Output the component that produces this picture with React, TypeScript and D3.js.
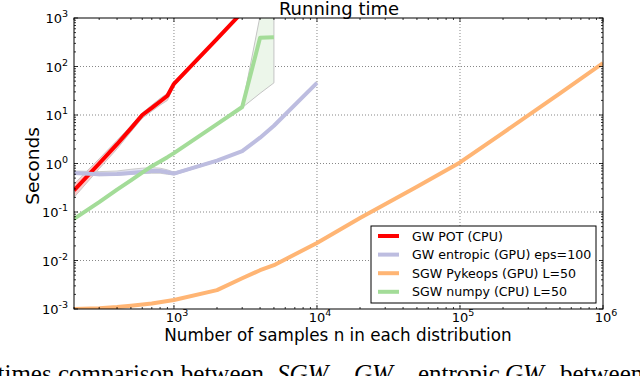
import React from "react";
import * as d3 from "d3";

// ---- data ----
const redN = [200, 300, 400, 500, 600, 700, 800, 900, 1000, 2000, 3000];
const redV = [0.28, 1.0, 2.5, 5.3, 10, 14, 19, 25, 44, 370, 1320];
const redLo = [0.2, 0.78, 2.0, 4.5, 8.6, 12, 16, 20, 40, 350, 1250];
const redHi = [0.38, 1.25, 3.0, 6.0, 11, 16, 22, 28, 48, 390, 1400];

const blueN = [200, 300, 400, 500, 600, 700, 800, 900, 1000, 2000, 3000, 4000, 5000, 10000];
const blueV = [0.64, 0.6, 0.61, 0.64, 0.67, 0.7, 0.7, 0.66, 0.62, 1.15, 1.8, 3.4, 6, 46];
const blueLo = [0.6, 0.56, 0.57, 0.6, 0.62, 0.63, 0.63, 0.6, 0.58, 1.1, 1.75, 3.3, 5.8, 45];
const blueHi = [0.7, 0.68, 0.7, 0.76, 0.8, 0.82, 0.8, 0.74, 0.66, 1.2, 1.85, 3.5, 6.2, 47];

const orangeN = [200, 300, 400, 500, 700, 1000, 2000, 3000, 4000, 5000, 10000, 20000, 50000, 100000, 200000, 500000, 1000000];
const orangeV = [0.001, 0.00104, 0.0011, 0.00117, 0.0013, 0.00153, 0.00245, 0.0043, 0.0063, 0.008, 0.023, 0.075, 0.33, 1.05, 4.3, 28, 118];

const greenN = [200, 300, 400, 500, 600, 700, 800, 900, 1000, 2000, 3000, 4000, 5000];
const greenV = [0.072, 0.16, 0.29, 0.45, 0.65, 0.88, 1.1, 1.35, 1.64, 6.5, 14.6, 390, 400];
const greenLo = [0.07, 0.155, 0.28, 0.44, 0.63, 0.86, 1.08, 1.32, 1.6, 6.3, 14.2, 28, 46];
const greenHi = [0.074, 0.165, 0.3, 0.46, 0.67, 0.9, 1.12, 1.38, 1.68, 6.7, 15, 1100, 1600];

const xTickExps = [3, 4, 5, 6];
const yTickExps = [-3, -2, -1, 0, 1, 2, 3];

const legendLabels = [
  "GW POT (CPU)",
  "GW entropic (GPU) eps=100",
  "SGW Pykeops (GPU) L=50",
  "SGW numpy (CPU) L=50",
];
const colors = ["#ff0000", "#bdbde0", "#ffb574", "#a3dc98"];

const W = 640, H = 376;
const L = 74, R = 603, T = 18, B = 309;

export default function App() {
  const x = d3.scaleLog().domain([200, 1e6]).range([L, R]);
  const y = d3.scaleLog().domain([1e-3, 1e3]).range([B, T]);

  const line = (ns: number[], vs: number[]) =>
    d3.line<number>().x((_, i) => x(ns[i])).y((v) => y(v))(vs) || "";
  const band = (ns: number[], lo: number[], hi: number[]) =>
    d3
      .area<number>()
      .x((_, i) => x(ns[i]))
      .y0((_, i) => y(lo[i]))
      .y1((v) => y(v))(hi) || "";

  const xMinor: number[] = [];
  for (let e = 2; e <= 5; e++) for (let m = 2; m <= 9; m++) {
    const v = m * Math.pow(10, e);
    if (v >= 200 && v <= 1e6) xMinor.push(v);
  }
  const yMinor: number[] = [];
  for (let e = -3; e <= 2; e++) for (let m = 2; m <= 9; m++) yMinor.push(m * Math.pow(10, e));

  const font = "DejaVu Sans, sans-serif";

  return (
    <svg width={W} height={H} style={{ position: "absolute", left: 0, top: 0, background: "#fff" }}>
      <defs>
        <clipPath id="plot">
          <rect x={L} y={T} width={R - L} height={B - T} />
        </clipPath>
      </defs>
      <rect x={0} y={0} width={W} height={H} fill="#fff" />
      {/* grid */}
      <g stroke="#555" strokeWidth={0.7} strokeDasharray="1,2">
        {xTickExps.slice(0, 3).map((e) => (
          <line key={"gx" + e} x1={x(Math.pow(10, e))} x2={x(Math.pow(10, e))} y1={T} y2={B} />
        ))}
        {yTickExps.slice(1, 6).map((e) => (
          <line key={"gy" + e} x1={L} x2={R} y1={y(Math.pow(10, e))} y2={y(Math.pow(10, e))} />
        ))}
      </g>
      <g clipPath="url(#plot)">
        <path d={band(redN, redLo, redHi)} fill="#ffc8c8" stroke="#c8c8c8" strokeWidth={1} />
        <path d={band(blueN, blueLo, blueHi)} fill="#e4e4f2" stroke="#cccccc" strokeWidth={1} />
        <path d={band(greenN, greenLo, greenHi)} fill="#ecf6ea" stroke="#c4c4c4" strokeWidth={1} />
        <path d={line(redN, redV)} fill="none" stroke={colors[0]} strokeWidth={4} strokeLinejoin="round" />
        <path d={line(blueN, blueV)} fill="none" stroke={colors[1]} strokeWidth={4} strokeLinejoin="round" />
        <path d={line(orangeN, orangeV)} fill="none" stroke={colors[2]} strokeWidth={4} strokeLinejoin="round" />
        <path d={line(greenN, greenV)} fill="none" stroke={colors[3]} strokeWidth={4} strokeLinejoin="round" />
      </g>
      {/* ticks */}
      <g stroke="#000" strokeWidth={0.8}>
        {xTickExps.map((e) => {
          const px = x(Math.pow(10, e));
          return (
            <g key={"tx" + e}>
              <line x1={px} x2={px} y1={B} y2={B - 4} />
              <line x1={px} x2={px} y1={T} y2={T + 4} />
            </g>
          );
        })}
        {xMinor.map((v) => {
          const px = x(v);
          return (
            <g key={"mx" + v}>
              <line x1={px} x2={px} y1={B} y2={B - 2} />
              <line x1={px} x2={px} y1={T} y2={T + 2} />
            </g>
          );
        })}
        {yTickExps.map((e) => {
          const py = y(Math.pow(10, e));
          return (
            <g key={"ty" + e}>
              <line x1={L} x2={L + 4} y1={py} y2={py} />
              <line x1={R} x2={R - 4} y1={py} y2={py} />
            </g>
          );
        })}
        {yMinor.map((v) => {
          const py = y(v);
          return (
            <g key={"my" + v}>
              <line x1={L} x2={L + 2} y1={py} y2={py} />
              <line x1={R} x2={R - 2} y1={py} y2={py} />
            </g>
          );
        })}
      </g>
      <rect x={L} y={T} width={R - L} height={B - T} fill="none" stroke="#000" strokeWidth={1} />
      {/* tick labels */}
      <g fontFamily={font} fontSize={13} fill="#000">
        {yTickExps.map((e) => (
          <text key={"ly" + e} x={68} y={y(Math.pow(10, e)) + 5} textAnchor="end">
            <tspan>10</tspan>
            <tspan dy={-6} fontSize={9.5}>{String(e)}</tspan>
          </text>
        ))}
        {xTickExps.map((e) => (
          <text key={"lx" + e} x={x(Math.pow(10, e)) + 3} y={322} textAnchor="middle">
            <tspan>10</tspan>
            <tspan dy={-6} fontSize={9.5}>{String(e)}</tspan>
          </text>
        ))}
      </g>
      {/* titles */}
      <text x={339} y={15} textAnchor="middle" fontFamily={font} fontSize={18}>Running time</text>
      <text x={338} y={341} textAnchor="middle" fontFamily={font} fontSize={16.8}>
        Number of samples n in each distribution
      </text>
      <text transform="translate(39,166) rotate(-90)" textAnchor="middle" fontFamily={font} fontSize={18.5}>
        Seconds
      </text>
      {/* legend */}
      <g>
        <rect x={371} y={226} width={225} height={77} fill="#fff" stroke="#000" strokeWidth={1} />
        {legendLabels.map((lab, i) => (
          <g key={lab}>
            <line x1={378} x2={399} y1={236 + i * 18.6} y2={236 + i * 18.6} stroke={colors[i]} strokeWidth={4} />
            <text x={412} y={240.5 + i * 18.6} fontFamily={font} fontSize={12.6}>{lab}</text>
          </g>
        ))}
      </g>
      {/* caption */}
      <text y={382} fontFamily="Liberation Serif, serif" fontSize={25} fill="#000">
        <tspan x={-2.5}>times comparison between</tspan>
        <tspan x={277} fontStyle="italic">SGW</tspan>
        <tspan>,</tspan>
        <tspan x={354} fontStyle="italic">GW</tspan>
        <tspan>,</tspan>
        <tspan x={418}>entropic</tspan>
        <tspan x={505} fontStyle="italic">GW</tspan>
        <tspan x={560}>between</tspan>
      </text>
    </svg>
  );
}
